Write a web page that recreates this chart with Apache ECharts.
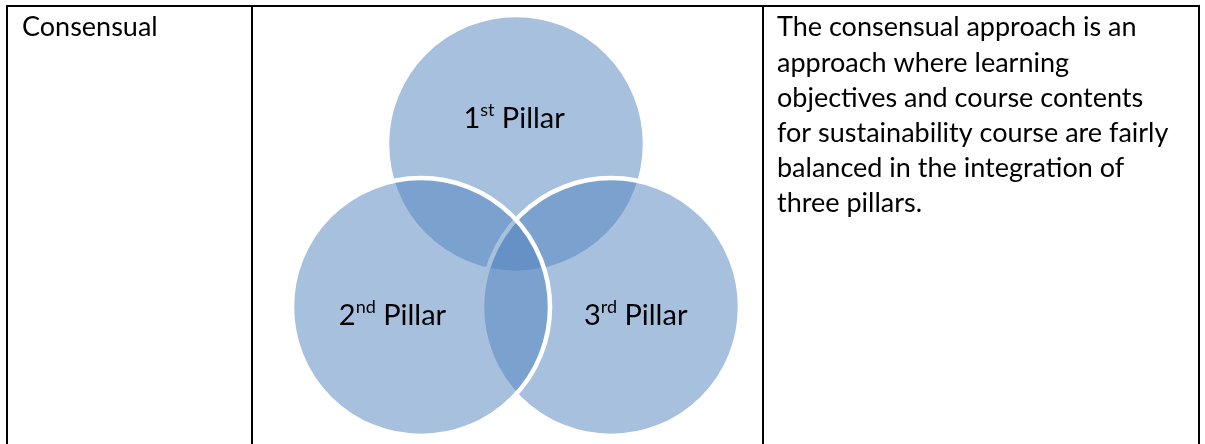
<!DOCTYPE html>
<html><head><meta charset="utf-8">
<script src="https://cdn.jsdelivr.net/npm/echarts@6/dist/echarts.min.js"></script>
<style>html,body{margin:0;padding:0;background:#fff}#c{width:1205px;height:444px}</style>
</head><body><div id="c"></div>
<script>
// Venn circles (drawn in this order: top, right, left)
const circleNames = ['1st Pillar', '3rd Pillar', '2nd Pillar'];
const circleX = [0, 0.5, -0.5];
const circleY = [0.858, 0, 0];
const circleR = [0.679, 0.679, 0.679];
// label anchor points (data units)
const labelX = [-0.01, 0.63, -0.65];
const labelY = [1.0, -0.037, -0.037];
const labelNum = ['1', '3', '2'];
const labelSup = ['st', 'rd', 'nd'];
// table texts
const rowLabel = 'Consensual';
const descLines = [
  'The consensual approach is an',
  'approach where learning',
  'objectives and course contents',
  'for sustainability course are fairly',
  'balanced in the integration of',
  'three pillars.'
];

const FONT = 'Lato, "Open Sans", sans-serif';
const data = circleNames.map((n, i) => ({name: n, value: [circleX[i], circleY[i], circleR[i], labelX[i], labelY[i]]}));

const chart = echarts.init(document.getElementById('c'), null, {renderer: 'canvas'});
const line = (x1, y1, x2, y2) => ({type: 'line', shape: {x1, y1, x2, y2}, style: {stroke: '#000', lineWidth: 2}, silent: true});

chart.setOption({
  backgroundColor: '#fff',
  animation: false,
  grid: {left: 231, width: 570, top: 22, height: 418},
  xAxis: {type: 'value', min: -1.5, max: 1.5, show: false},
  yAxis: {type: 'value', min: -0.7, max: 1.5, show: false},
  graphic: [
    line(6, 6, 1200, 6),
    line(7, 5, 7, 444),
    line(252, 5, 252, 444),
    line(763, 5, 763, 444),
    line(1199, 5, 1199, 444),
    {type: 'text', left: 22, top: 10, style: {text: rowLabel, font: '27px ' + FONT, fill: '#000', lineHeight: 35}},
    {type: 'text', left: 777, top: 10, style: {text: descLines.join('\n'), font: '27px ' + FONT, fill: '#000', lineHeight: 35.2}}
  ],
  series: [
    {
      type: 'custom', clip: false, data: data,
      encode: {x: 0, y: 1},
      renderItem(params, api) {
        const c = api.coord([api.value(0), api.value(1)]);
        const r = api.size([api.value(2), 0])[0];
        return {type: 'circle', shape: {cx: c[0], cy: c[1], r: r},
          style: {fill: 'rgba(79,129,189,0.5)', stroke: '#fff', lineWidth: 4.5}};
      }
    },
    {
      type: 'custom', clip: false, data: data, z: 5,
      encode: {x: 3, y: 4},
      renderItem(params, api) {
        const i = params.dataIndex;
        const p = api.coord([api.value(3), api.value(4)]);
        return {type: 'text', x: p[0], y: p[1], style: {
          text: '{n|' + labelNum[i] + '}{s|' + labelSup[i] + '}{n| Pillar}',
          align: 'center', verticalAlign: 'middle', fill: '#000',
          rich: {
            n: {fontSize: 29, fontFamily: FONT, fill: '#000', lineHeight: 32, verticalAlign: 'bottom'},
            s: {fontSize: 18, fontFamily: FONT, fill: '#000', lineHeight: 32, verticalAlign: 'top', padding: [0, 0, 11, 0]}
          }
        }};
      }
    }
  ]
});
</script></body></html>
